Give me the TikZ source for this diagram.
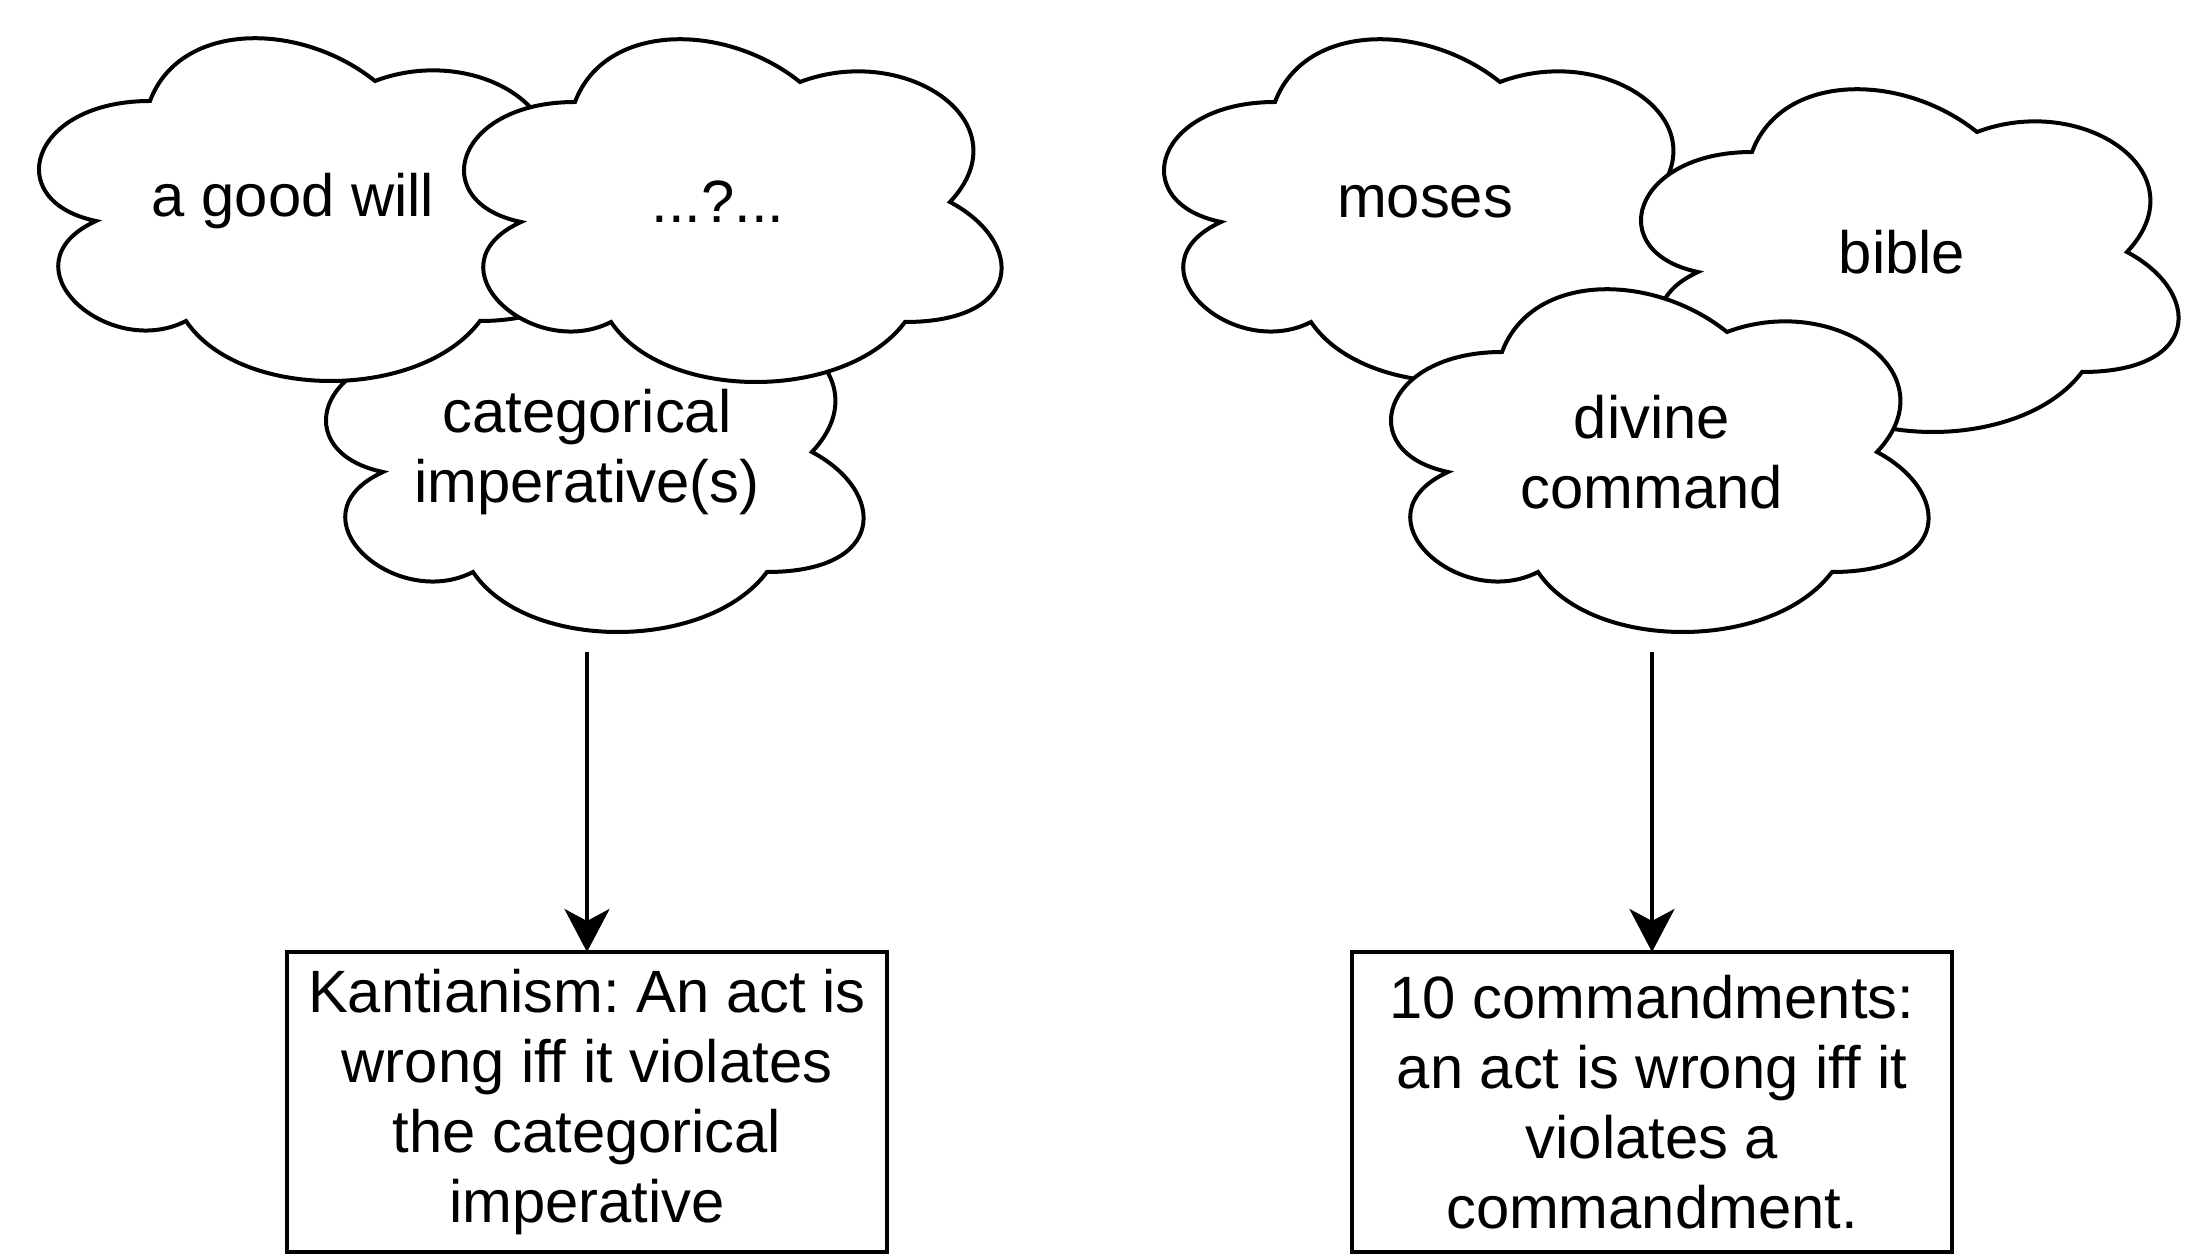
\documentclass[tikz,border=0pt]{standalone}
\usepackage{fontspec}
\setmainfont{Liberation Sans}
\usepackage{tikz}
\usetikzlibrary{arrows.meta}
\frenchspacing

\begin{document}
\begin{tikzpicture}[
    line width=0.04cm,
    puff/.pic={\filldraw[fill=white] (-1.5,1) .. controls (-2.7,1) and (-3,0) .. (-2.04,-0.2)
        .. controls (-3,-0.64) and (-1.92,-1.6) .. (-1.14,-1.2)
        .. controls (-0.6,-2) and (1.2,-2) .. (1.8,-1.2)
        .. controls (3,-1.2) and (3,-0.4) .. (2.25,0)
        .. controls (3,0.8) and (1.8,1.6) .. (0.75,1.2)
        .. controls (0,1.8) and (-1.2,1.8) .. (-1.5,1) -- cycle;},
    cloudtext/.style={minimum width=6cm, minimum height=4cm, inner sep=0pt, outer sep=0pt, align=center, font=\fontsize{17}{19.9}\selectfont},
    rulebox/.style={draw, fill=white, minimum width=6cm, minimum height=3cm, inner sep=0pt, outer sep=0pt, align=center, font=\fontsize{17}{19.9}\selectfont},
    link/.style={-{Stealth[length=0.43cm, width=0.45cm, inset=0.12cm]}}
]
    \useasboundingbox (0,0) rectangle (22.1,12.55);

    % Kant side (left)
    \pic at (5.87,8.03) {puff};
    \node[cloudtext] (ci) at (5.87,8.03) {categorical\\imperative(s)}; % bottom cloud
    \pic at (3,10.54) {puff};
    \node[cloudtext] (gw) at (2.93,10.54) {a good will};
    \pic at (7.25,10.53) {puff};
    \node[cloudtext] (qm) at (7.18,10.53) {...?...};
    \node[rulebox] (kant) at (5.87,1.53) {Kantianism: An act is\\wrong iff it violates\\the categorical\\imperative};
    \draw[link] (ci.south) -- (kant.north);

    % Divine command side (right)
    \pic at (14.25,10.53) {puff};
    \node[cloudtext] (mo) at (14.25,10.53) {moses};
    \pic at (19.02,10.03) {puff};
    \node[cloudtext] (bi) at (19.02,10.03) {bible};
    \pic at (16.52,8.03) {puff};
    \node[cloudtext] (dc) at (16.52,8.03) {divine\\command}; % front cloud
    \node[rulebox] (ten) at (16.52,1.53) {10 commandments:\\an act is wrong iff it\\violates a\\commandment.};
    \draw[link] (dc.south) -- (ten.north);

\end{tikzpicture}
\end{document}
